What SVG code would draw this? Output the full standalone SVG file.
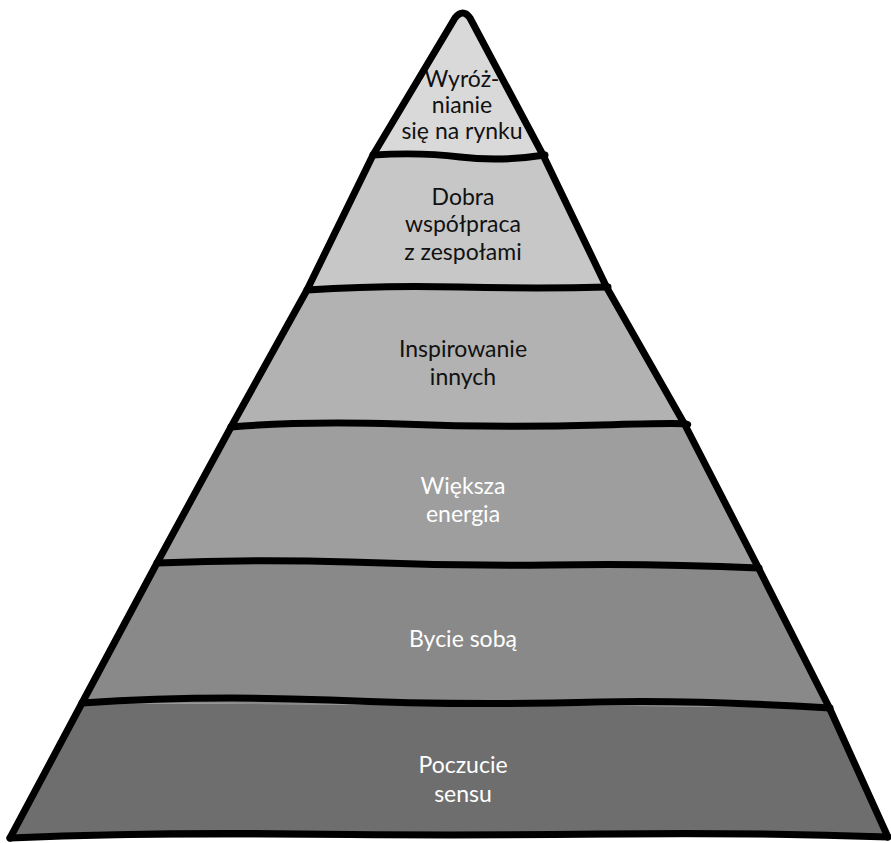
<svg xmlns="http://www.w3.org/2000/svg" width="891" height="843" viewBox="0 0 891 843">
<style>
.edge{fill:none;stroke:#000;stroke-width:7;stroke-linejoin:round;stroke-linecap:round}
.lbl{font-family:Lato,"Open Sans",sans-serif;font-size:23px;text-anchor:middle}
.dark{fill:#111}
.light{fill:#fff}
</style>
<rect width="891" height="843" fill="#fff"/>
<g id="layer1"><polygon points="463,12 543,155 373,155" fill="#d9d9d9"/>
<text class="lbl dark" x="462" y="87" font-size="19">Wyróż-</text>
<text class="lbl dark" x="462" y="113" font-size="19">nianie</text>
<text class="lbl dark" x="462" y="139" font-size="19">się na rynku</text></g>
<g id="layer2"><polygon points="373,155 543,155 607,288 307,290" fill="#c7c7c7"/>
<text class="lbl dark" x="463" y="205">Dobra</text>
<text class="lbl dark" x="463" y="232">współpraca</text>
<text class="lbl dark" x="463" y="260">z zespołami</text></g>
<g id="layer3"><polygon points="307,290 607,288 685,425 231,427" fill="#b2b2b2"/>
<text class="lbl dark" x="463" y="357">Inspirowanie</text>
<text class="lbl dark" x="463" y="385">innych</text></g>
<g id="layer4"><polygon points="231,427 685,425 758,567 157,563" fill="#9e9e9e"/>
<text class="lbl light" x="463" y="494">Większa</text>
<text class="lbl light" x="463" y="522">energia</text></g>
<g id="layer5"><polygon points="157,563 758,567 829,707 82,703" fill="#898989"/>
<text class="lbl light" x="463" y="647">Bycie sobą</text></g>
<g id="layer6"><polygon points="82,703 829,707 888,837 10,838" fill="#6e6e6e"/>
<text class="lbl light" x="463" y="773">Poczucie</text>
<text class="lbl light" x="463" y="802">sensu</text></g>
<g id="connectors">
<path class="edge" d="M373,155 Q420,152 460,157 T545,155"/>
<path class="edge" d="M307,290 Q380,285 460,287 T608,287"/>
<path class="edge" d="M231,427 Q300,421 400,424 Q500,428 600,425 T686,425"/>
<path class="edge" d="M157,563 Q250,559 350,562 Q450,566 550,565 Q650,563 759,568"/>
<path class="edge" d="M82,703 Q200,695 330,700 Q460,706 600,702 Q700,700 830,708"/>
<path class="edge" d="M10,838 Q150,832 300,834 Q450,836 600,834 Q750,832 888,837"/>
<path class="edge" d="M10,838 L82,703 L157,563 L231,427 L307,290 L373,155 L455,18 Q463,8 470,18 L543,155 L607,288 L685,425 L758,567 L829,707 L888,837"/>
</g>
</svg>
